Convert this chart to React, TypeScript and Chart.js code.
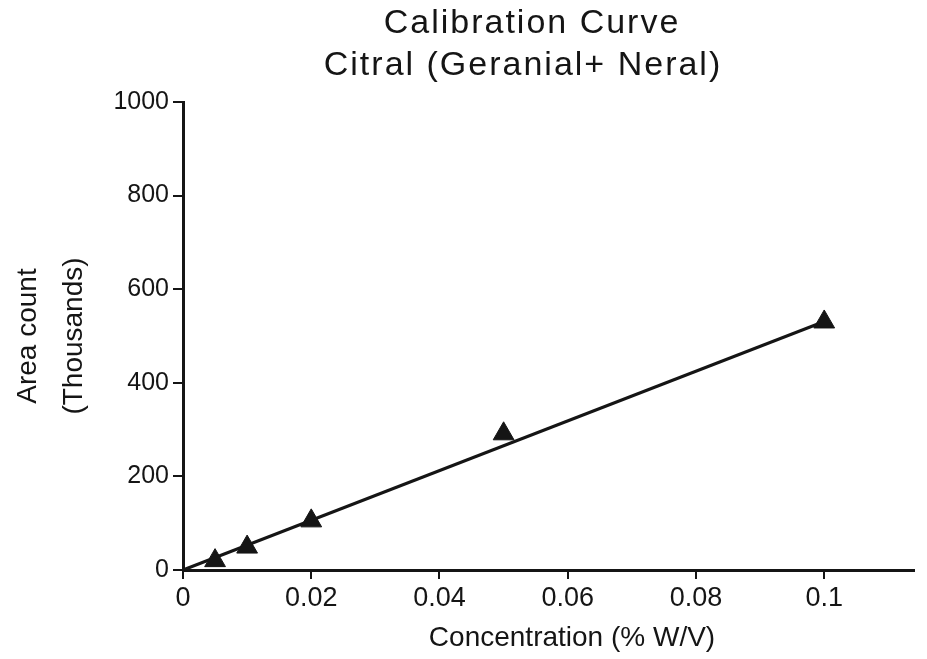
import React, { useEffect, useRef } from "react";
import { Chart, registerables } from "chart.js";

Chart.register(...registerables);

// ---- data ----
const concentrations = [0.005, 0.01, 0.02, 0.05, 0.1];
const areaCounts = [20, 49, 105, 291, 530];
const fitX = [0, 0.1];
const fitY = [0, 531];

const xTickValues = [0, 0.02, 0.04, 0.06, 0.08, 0.1];
const xTickLabels = ["0", "0.02", "0.04", "0.06", "0.08", "0.1"];
const yTickValues = [0, 200, 400, 600, 800, 1000];
const yTickLabels = ["0", "200", "400", "600", "800", "1000"];

const titleLines = ["Calibration Curve", "Citral (Geranial+ Neral)"];
const xTitle = "Concentration (% W/V)";
const yTitle = ["Area count", "(Thousands)"];

const FONT = '"Liberation Sans", Arial, Helvetica, sans-serif';
const INK = "#151515";

const textPlugin = {
  id: "calibrationText",
  afterDraw(chart: any) {
    const ctx = chart.ctx as CanvasRenderingContext2D;
    ctx.save();
    ctx.fillStyle = INK;
    ctx.textAlign = "center";
    ctx.textBaseline = "alphabetic";
    ctx.font = `34px ${FONT}`;
    (ctx as any).letterSpacing = "2px";
    ctx.fillText(titleLines[0], 532, 33);
    ctx.fillText(titleLines[1], 523, 75);
    (ctx as any).letterSpacing = "0px";
    ctx.font = `28px ${FONT}`;
    ctx.fillText(xTitle, 572, 646);
    ctx.restore();
  },
};

export default function App() {
  const canvasRef = useRef<HTMLCanvasElement | null>(null);

  useEffect(() => {
    const canvas = canvasRef.current;
    if (!canvas) return;
    const chart = new Chart(canvas, {
      type: "scatter",
      data: {
        datasets: [
          {
            label: "Citral",
            data: concentrations.map((x, i) => ({ x, y: areaCounts[i] })),
            pointStyle: "triangle",
            pointRadius: 12,
            pointHoverRadius: 12,
            backgroundColor: INK,
            borderColor: INK,
            borderWidth: 1,
            showLine: false,
            clip: false,
          },
          {
            label: "Fit",
            data: fitX.map((x, i) => ({ x, y: fitY[i] })),
            showLine: true,
            borderColor: INK,
            borderWidth: 3,
            pointRadius: 0,
            fill: false,
            clip: false,
          },
        ],
      },
      plugins: [textPlugin],
      options: {
        animation: false,
        responsive: true,
        maintainAspectRatio: false,
        events: [],
        layout: { padding: { top: 102, left: 0, right: 9, bottom: 0 } },
        plugins: {
          legend: { display: false },
          title: { display: false },
          tooltip: { enabled: false },
        },
        scales: {
          x: {
            type: "linear",
            min: 0,
            max: 0.114,
            afterBuildTicks: (scale: any) => {
              scale.ticks = xTickValues.map((v) => ({ value: v }));
            },
            afterFit: (scale: any) => {
              scale.height = 89;
            },
            grid: {
              display: true,
              drawOnChartArea: false,
              drawTicks: true,
              tickLength: 9,
              color: INK,
              lineWidth: 2,
            },
            border: { display: true, color: INK, width: 3 },
            ticks: {
              color: INK,
              padding: 3,
              maxRotation: 0,
              autoSkip: false,
              font: { family: FONT, size: 27 },
              callback: (_v: any, i: number) => xTickLabels[i],
            },
            title: { display: false },
          },
          y: {
            type: "linear",
            min: 0,
            max: 1000,
            afterBuildTicks: (scale: any) => {
              scale.ticks = yTickValues.map((v) => ({ value: v }));
            },
            afterFit: (scale: any) => {
              scale.width = 183;
            },
            grid: {
              display: true,
              drawOnChartArea: false,
              drawTicks: true,
              tickLength: 10,
              color: INK,
              lineWidth: 2,
            },
            border: { display: true, color: INK, width: 3 },
            ticks: {
              color: INK,
              padding: 4,
              autoSkip: false,
              font: { family: FONT, size: 25 },
              callback: (_v: any, i: number) => yTickLabels[i],
            },
            title: {
              display: true,
              text: yTitle,
              color: INK,
              font: { family: FONT, size: 28, lineHeight: 46 / 28 },
              padding: { top: 5, bottom: 0 },
            },
          },
        },
      },
    } as any);
    return () => chart.destroy();
  }, []);

  return (
    <div
      style={{
        position: "fixed",
        left: 0,
        top: 0,
        width: 927,
        height: 659,
        background: "#ffffff",
      }}
    >
      <canvas ref={canvasRef} />
    </div>
  );
}
